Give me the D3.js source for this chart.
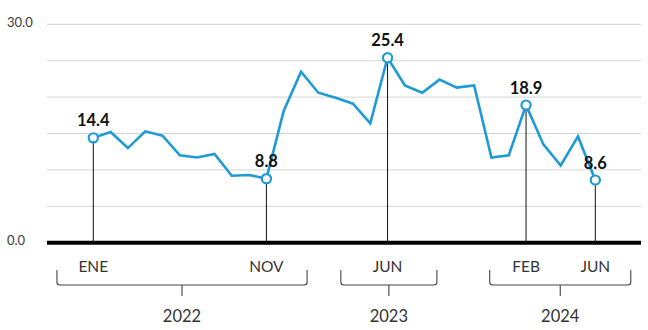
<!DOCTYPE html>
<html>
<head>
<meta charset="utf-8">
<script src="https://cdn.jsdelivr.net/npm/d3@7"></script>
<style>
  html, body { margin: 0; padding: 0; background: #fff; }
  svg { display: block; font-family: Lato, "Open Sans", sans-serif; }
</style>
</head>
<body>
<svg id="chart" width="648" height="330"></svg>
<script>
// ---- data ----
const months = [
  "2022-01","2022-02","2022-03","2022-04","2022-05","2022-06","2022-07","2022-08","2022-09","2022-10","2022-11","2022-12",
  "2023-01","2023-02","2023-03","2023-04","2023-05","2023-06","2023-07","2023-08","2023-09","2023-10","2023-11","2023-12",
  "2024-01","2024-02","2024-03","2024-04","2024-05","2024-06"
];
const values = [
  14.4, 15.2, 13.0, 15.3, 14.7, 12.0, 11.7, 12.2, 9.2, 9.3, 8.8, 18.1,
  23.5, 20.6, 19.9, 19.1, 16.4, 25.4, 21.6, 20.6, 22.4, 21.3, 21.6, 11.7,
  12.0, 18.9, 13.5, 10.6, 14.6, 8.6
];
const highlightMonths = ["2022-01", "2022-11", "2023-06", "2024-02", "2024-06"];
const highlightLabels = ["ENE", "NOV", "JUN", "FEB", "JUN"];
const yTicks = [0, 5, 10, 15, 20, 25, 30];
const yTickLabels = ["0.0", "", "", "", "", "", "30.0"];
const years = ["2022", "2023", "2024"];
// bracket extents, in months relative to the first month
const yearFrom = [-2.1, 14.3, 22.9];
const yearTo = [12.35, 19.85, 31.05];

// ---- layout ----
const svg = d3.select("#chart");
const x = d3.scalePoint().domain(months).range([93.3, 595.3]);
const step = x.step();
const xi = i => x.range()[0] + i * step;
const y = d3.scaleLinear().domain([0, 30]).range([242.7, 24.3]);
const gridLeft = 47, gridRight = 641;
const blue = "#1e9ad6";

// gridlines
svg.append("g").selectAll("line")
  .data(yTicks.filter(t => t > 0))
  .join("line")
  .attr("x1", gridLeft).attr("x2", gridRight)
  .attr("y1", d => y(d)).attr("y2", d => y(d))
  .attr("stroke", "#d4d4d4").attr("stroke-width", 1);

// y labels
svg.append("g").selectAll("text")
  .data(yTicks.map((t, i) => ({ t, label: yTickLabels[i] })).filter(d => d.label))
  .join("text")
  .attr("x", 7)
  .attr("y", d => y(d.t) + 2.5)
  .attr("font-size", 13)
  .attr("fill", "#3a3a3a")
  .text(d => d.label);

// stems
const hl = highlightMonths.map((m, i) => ({ m, v: values[months.indexOf(m)], label: highlightLabels[i] }));
svg.append("g").selectAll("line")
  .data(hl)
  .join("line")
  .attr("x1", d => x(d.m)).attr("x2", d => x(d.m))
  .attr("y1", d => y(d.v)).attr("y2", y(0))
  .attr("stroke", "#111").attr("stroke-width", 1);

// baseline
svg.append("line")
  .attr("x1", gridLeft).attr("x2", gridRight)
  .attr("y1", y(0)).attr("y2", y(0))
  .attr("stroke", "#000").attr("stroke-width", 4);

// line
const line = d3.line().x((d, i) => x(months[i])).y(d => y(d));
svg.append("path")
  .datum(values)
  .attr("d", line)
  .attr("fill", "none")
  .attr("stroke", blue)
  .attr("stroke-width", 2.6)
  .attr("stroke-linejoin", "miter");

// highlight circles
svg.append("g").selectAll("circle")
  .data(hl)
  .join("circle")
  .attr("cx", d => x(d.m)).attr("cy", d => y(d.v))
  .attr("r", 4.6)
  .attr("fill", "#fff")
  .attr("stroke", blue)
  .attr("stroke-width", 2.2);

// value labels
svg.append("g").selectAll("text")
  .data(hl)
  .join("text")
  .attr("x", d => x(d.m)).attr("y", d => y(d.v) - 11.5)
  .attr("text-anchor", "middle")
  .attr("font-size", 16.5)
  .attr("font-weight", 700)
  .attr("fill", "#111")
  .text(d => d.v.toFixed(1));

// month labels
svg.append("g").selectAll("text")
  .data(hl)
  .join("text")
  .attr("x", d => x(d.m)).attr("y", 271.5)
  .attr("text-anchor", "middle")
  .attr("font-size", 15.5)
  .attr("fill", "#333")
  .text(d => d.label);

// year brackets
const bTop = 270, bBot = 285, bR = 3, tickBot = 296;
const groups = years.map((yr, i) => ({ yr, x1: xi(yearFrom[i]), x2: xi(yearTo[i]) }));
const bg = svg.append("g");
bg.selectAll("path")
  .data(groups)
  .join("path")
  .attr("d", d => {
    const p = d3.path();
    p.moveTo(d.x1, bTop);
    p.lineTo(d.x1, bBot - bR);
    p.quadraticCurveTo(d.x1, bBot, d.x1 + bR, bBot);
    p.lineTo(d.x2 - bR, bBot);
    p.quadraticCurveTo(d.x2, bBot, d.x2, bBot - bR);
    p.lineTo(d.x2, bTop);
    p.moveTo((d.x1 + d.x2) / 2, bBot);
    p.lineTo((d.x1 + d.x2) / 2, tickBot);
    return p.toString();
  })
  .attr("fill", "none")
  .attr("stroke", "#444")
  .attr("stroke-width", 1.1);

bg.selectAll("text")
  .data(groups)
  .join("text")
  .attr("x", d => (d.x1 + d.x2) / 2)
  .attr("y", 321.5)
  .attr("text-anchor", "middle")
  .attr("font-size", 16.5)
  .attr("fill", "#333")
  .text(d => d.yr);
</script>
</body>
</html>
